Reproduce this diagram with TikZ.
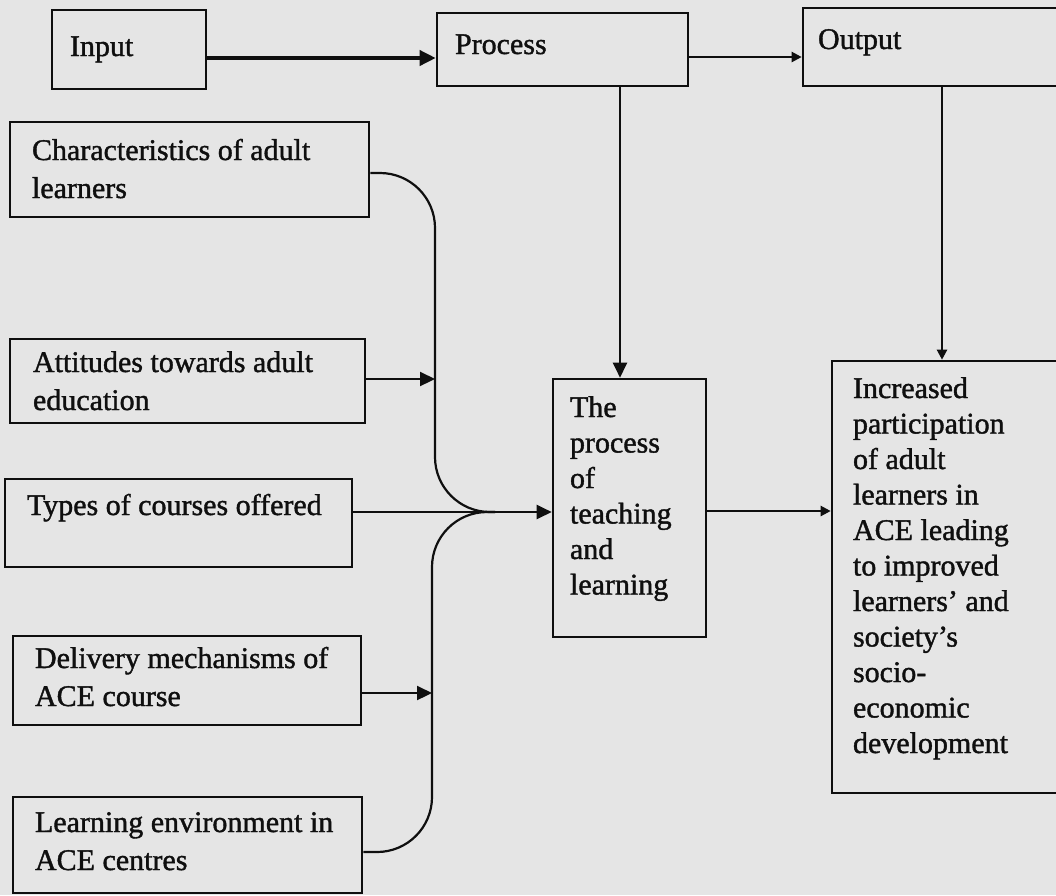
\documentclass[tikz,border=0pt]{standalone}
\usepackage{fontspec}
\setmainfont{Liberation Serif}[FakeBold=1.3]
\usetikzlibrary{arrows.meta}
\definecolor{paper}{RGB}{229,229,229}
\definecolor{ink}{RGB}{15,15,15}
\newcommand{\fsL}{\fontsize{30}{38}\selectfont}
\newcommand{\fsR}{\fontsize{30}{35.5}\selectfont}
% #1 height, #2 width, #3 first baseline offset, #4 text, #5 font
\newcommand{\bt}[5]{\parbox[c][#1][t]{#2}{#5\raggedright\rule{0pt}{#3}#4}}
\tikzset{
  box/.style={draw=ink, line width=2.6pt, inner ysep=0pt, text=ink},
  conn/.style={draw=ink, line width=2.2pt},
  arrowbig/.style={-{Triangle[length=16pt,width=15pt]}},
  arrowmid/.style={-{Triangle[length=15pt,width=14pt]}},
  arrowsmall/.style={-{Triangle[length=10pt,width=10pt]}},
}
\begin{document}
\begin{tikzpicture}[x=1pt,y=-1pt]
\useasboundingbox (0,0) rectangle (1056,895);
\fill[paper] (0,0) rectangle (1056,895);
\clip (0,0) rectangle (1056,895);

% top row
\node[box, inner xsep=18pt] (input) at (129,49.5) {\bt{79pt}{118pt}{46pt}{Input}{\fsL}};
\node[box, inner xsep=18pt] (proc) at (562.5,49.5) {\bt{73pt}{215pt}{41pt}{Process}{\fsL}};
\node[box, inner xsep=15pt] (output) at (936.5,47) {\bt{78pt}{237pt}{41pt}{Output}{\fsL}};

% left column
\node[box, inner xsep=22pt] (char) at (189.5,169.5) {\bt{95pt}{315pt}{38pt}{Characteristics of adult\\learners}{\fsL}};
\node[box, inner xsep=23pt] (att) at (187.5,381) {\bt{84pt}{309pt}{33pt}{Attitudes towards adult\\education}{\fsL}};
\node[box, inner xsep=22pt] (types) at (178.5,523) {\bt{88pt}{303pt}{36pt}{Types of courses offered}{\fsL}};
\node[box, inner xsep=22pt] (deliv) at (187,680.5) {\bt{89pt}{304pt}{32pt}{Delivery mechanisms of\\ACE course}{\fsL}};
\node[box, inner xsep=22pt] (learn) at (187.5,845) {\bt{96pt}{305pt}{35pt}{Learning environment in\\ACE centres}{\fsL}};

% centre and right
\node[box, inner xsep=17pt] (tpl) at (629.5,508) {\bt{258pt}{119pt}{38pt}{The\\process\\of\\teaching\\and\\learning}{\fsR}};
\node[box, inner xsep=21pt] (inc) at (951,577) {\bt{432pt}{196pt}{37pt}{Increased\\participation\\of adult\\learners in\\ACE leading\\to improved\\learners’ and\\society’s\\socio-\\economic\\development}{\fsR}};

% connectors, top
\draw[conn, line width=3.6pt, arrowbig] (input.east |- 0,58) -- (proc.west |- 0,58);
\draw[conn, arrowsmall] (proc.east |- 0,57) -- (output.west |- 0,57);
\draw[conn, arrowmid] (620,0 |- proc.south) -- (620,0 |- tpl.north);
\draw[conn, arrowsmall] (942,0 |- output.south) -- (942,0 |- inc.north);
\draw[conn, arrowsmall] (tpl.east |- 0,511) -- (inc.west |- 0,511);

% connectors, left
\coordinate (m) at (495,512);
\coordinate (ja) at (435,379);
\coordinate (jd) at (432,693);
\draw[conn, rounded corners=55pt] (char.east |- 0,173) -- (435,173) -- (435,512) -- (m);
\draw[conn, rounded corners=55pt] (learn.east |- 0,852) -- (432,852) -- (432,512) -- (m);
\draw[conn, arrowmid] (types.east |- 0,512) -- (tpl.west |- 0,512);
\draw[conn, arrowmid] (att.east |- 0,379) -- (ja);
\draw[conn, arrowmid] (deliv.east |- 0,693) -- (jd);
\end{tikzpicture}
\end{document}
